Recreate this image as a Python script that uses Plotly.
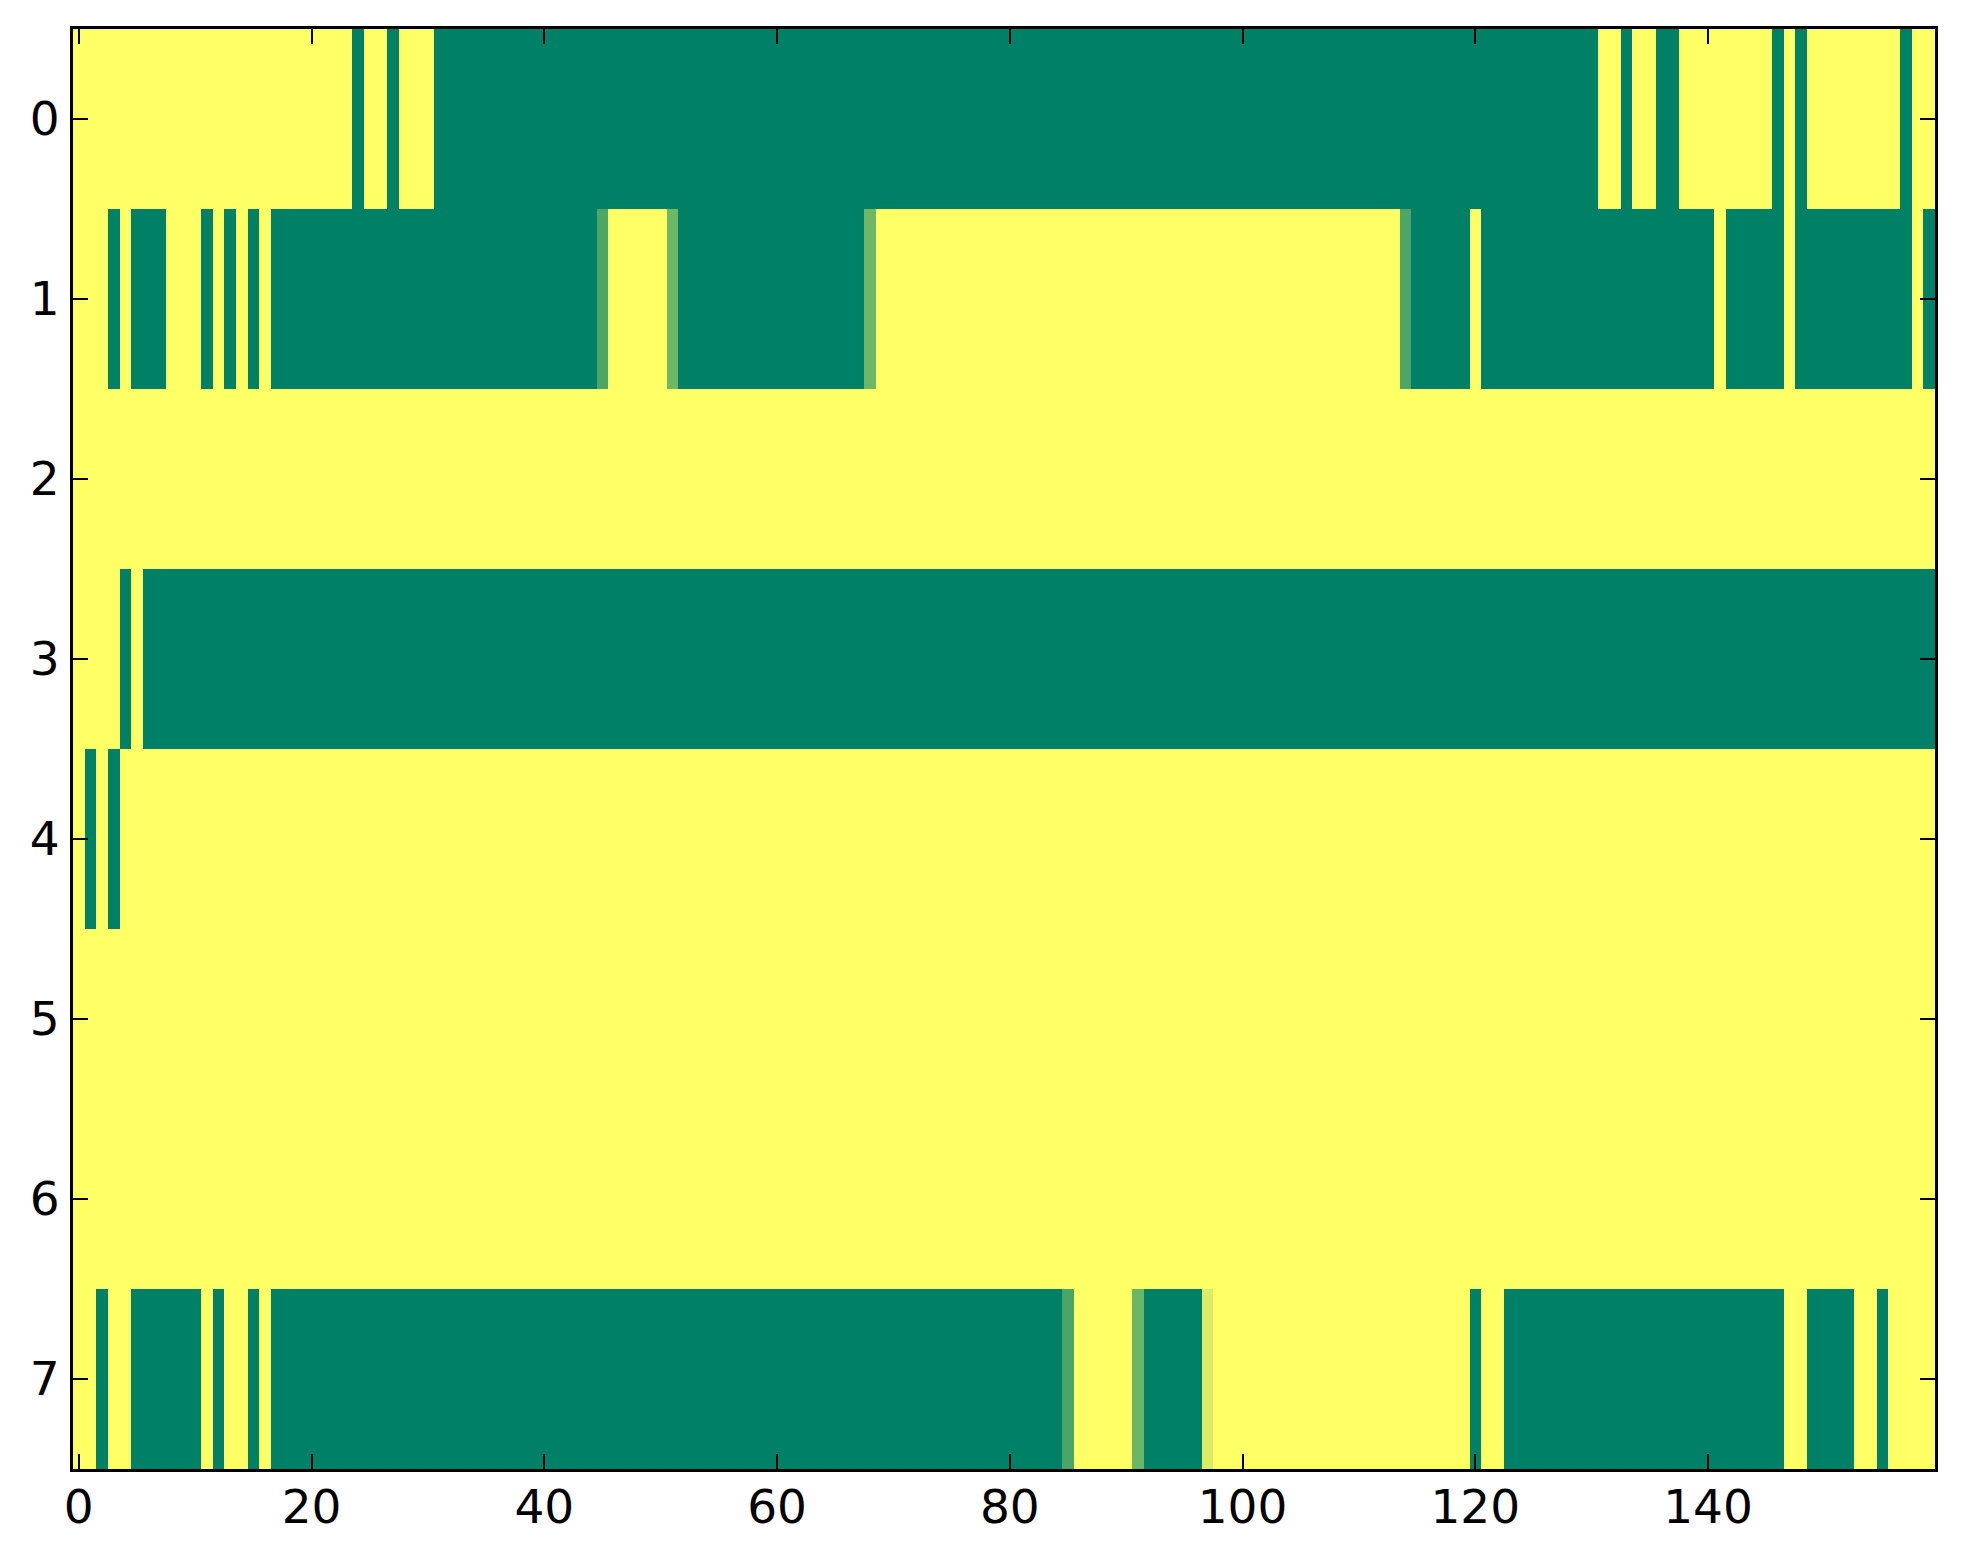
import plotly.graph_objects as go

# column index 0..159, row index 0..7
columns = list(range(160))
rows = list(range(8))

row0 = [
    1, 1, 1, 1, 1, 1, 1, 1, 1, 1,
    1, 1, 1, 1, 1, 1, 1, 1, 1, 1,
    1, 1, 1, 1, 0, 1, 1, 0, 1, 1,
    1, 0, 0, 0, 0, 0, 0, 0, 0, 0,
    0, 0, 0, 0, 0, 0, 0, 0, 0, 0,
    0, 0, 0, 0, 0, 0, 0, 0, 0, 0,
    0, 0, 0, 0, 0, 0, 0, 0, 0, 0,
    0, 0, 0, 0, 0, 0, 0, 0, 0, 0,
    0, 0, 0, 0, 0, 0, 0, 0, 0, 0,
    0, 0, 0, 0, 0, 0, 0, 0, 0, 0,
    0, 0, 0, 0, 0, 0, 0, 0, 0, 0,
    0, 0, 0, 0, 0, 0, 0, 0, 0, 0,
    0, 0, 0, 0, 0, 0, 0, 0, 0, 0,
    0, 1, 1, 0, 1, 1, 0, 0, 1, 1,
    1, 1, 1, 1, 1, 1, 0, 1, 0, 1,
    1, 1, 1, 1, 1, 1, 1, 0, 1, 1,
]

row1 = [
    1, 1, 1, 0, 1, 0, 0, 0, 1, 1,
    1, 0, 1, 0, 1, 0, 1, 0, 0, 0,
    0, 0, 0, 0, 0, 0, 0, 0, 0, 0,
    0, 0, 0, 0, 0, 0, 0, 0, 0, 0,
    0, 0, 0, 0, 0, 0.30, 1, 1, 1, 1,
    1, 0.43, 0, 0, 0, 0, 0, 0, 0, 0,
    0, 0, 0, 0, 0, 0, 0, 0, 0.43, 1,
    1, 1, 1, 1, 1, 1, 1, 1, 1, 1,
    1, 1, 1, 1, 1, 1, 1, 1, 1, 1,
    1, 1, 1, 1, 1, 1, 1, 1, 1, 1,
    1, 1, 1, 1, 1, 1, 1, 1, 1, 1,
    1, 1, 1, 1, 0.30, 0, 0, 0, 0, 0,
    1, 0, 0, 0, 0, 0, 0, 0, 0, 0,
    0, 0, 0, 0, 0, 0, 0, 0, 0, 0,
    0, 1, 0, 0, 0, 0, 0, 1, 0, 0,
    0, 0, 0, 0, 0, 0, 0, 0, 1, 0,
]

row2 = [
    1, 1, 1, 1, 1, 1, 1, 1, 1, 1,
    1, 1, 1, 1, 1, 1, 1, 1, 1, 1,
    1, 1, 1, 1, 1, 1, 1, 1, 1, 1,
    1, 1, 1, 1, 1, 1, 1, 1, 1, 1,
    1, 1, 1, 1, 1, 1, 1, 1, 1, 1,
    1, 1, 1, 1, 1, 1, 1, 1, 1, 1,
    1, 1, 1, 1, 1, 1, 1, 1, 1, 1,
    1, 1, 1, 1, 1, 1, 1, 1, 1, 1,
    1, 1, 1, 1, 1, 1, 1, 1, 1, 1,
    1, 1, 1, 1, 1, 1, 1, 1, 1, 1,
    1, 1, 1, 1, 1, 1, 1, 1, 1, 1,
    1, 1, 1, 1, 1, 1, 1, 1, 1, 1,
    1, 1, 1, 1, 1, 1, 1, 1, 1, 1,
    1, 1, 1, 1, 1, 1, 1, 1, 1, 1,
    1, 1, 1, 1, 1, 1, 1, 1, 1, 1,
    1, 1, 1, 1, 1, 1, 1, 1, 1, 1,
]

row3 = [
    1, 1, 1, 1, 0, 1, 0, 0, 0, 0,
    0, 0, 0, 0, 0, 0, 0, 0, 0, 0,
    0, 0, 0, 0, 0, 0, 0, 0, 0, 0,
    0, 0, 0, 0, 0, 0, 0, 0, 0, 0,
    0, 0, 0, 0, 0, 0, 0, 0, 0, 0,
    0, 0, 0, 0, 0, 0, 0, 0, 0, 0,
    0, 0, 0, 0, 0, 0, 0, 0, 0, 0,
    0, 0, 0, 0, 0, 0, 0, 0, 0, 0,
    0, 0, 0, 0, 0, 0, 0, 0, 0, 0,
    0, 0, 0, 0, 0, 0, 0, 0, 0, 0,
    0, 0, 0, 0, 0, 0, 0, 0, 0, 0,
    0, 0, 0, 0, 0, 0, 0, 0, 0, 0,
    0, 0, 0, 0, 0, 0, 0, 0, 0, 0,
    0, 0, 0, 0, 0, 0, 0, 0, 0, 0,
    0, 0, 0, 0, 0, 0, 0, 0, 0, 0,
    0, 0, 0, 0, 0, 0, 0, 0, 0, 0,
]

row4 = [
    1, 0, 1, 0, 1, 1, 1, 1, 1, 1,
    1, 1, 1, 1, 1, 1, 1, 1, 1, 1,
    1, 1, 1, 1, 1, 1, 1, 1, 1, 1,
    1, 1, 1, 1, 1, 1, 1, 1, 1, 1,
    1, 1, 1, 1, 1, 1, 1, 1, 1, 1,
    1, 1, 1, 1, 1, 1, 1, 1, 1, 1,
    1, 1, 1, 1, 1, 1, 1, 1, 1, 1,
    1, 1, 1, 1, 1, 1, 1, 1, 1, 1,
    1, 1, 1, 1, 1, 1, 1, 1, 1, 1,
    1, 1, 1, 1, 1, 1, 1, 1, 1, 1,
    1, 1, 1, 1, 1, 1, 1, 1, 1, 1,
    1, 1, 1, 1, 1, 1, 1, 1, 1, 1,
    1, 1, 1, 1, 1, 1, 1, 1, 1, 1,
    1, 1, 1, 1, 1, 1, 1, 1, 1, 1,
    1, 1, 1, 1, 1, 1, 1, 1, 1, 1,
    1, 1, 1, 1, 1, 1, 1, 1, 1, 1,
]

row5 = [
    1, 1, 1, 1, 1, 1, 1, 1, 1, 1,
    1, 1, 1, 1, 1, 1, 1, 1, 1, 1,
    1, 1, 1, 1, 1, 1, 1, 1, 1, 1,
    1, 1, 1, 1, 1, 1, 1, 1, 1, 1,
    1, 1, 1, 1, 1, 1, 1, 1, 1, 1,
    1, 1, 1, 1, 1, 1, 1, 1, 1, 1,
    1, 1, 1, 1, 1, 1, 1, 1, 1, 1,
    1, 1, 1, 1, 1, 1, 1, 1, 1, 1,
    1, 1, 1, 1, 1, 1, 1, 1, 1, 1,
    1, 1, 1, 1, 1, 1, 1, 1, 1, 1,
    1, 1, 1, 1, 1, 1, 1, 1, 1, 1,
    1, 1, 1, 1, 1, 1, 1, 1, 1, 1,
    1, 1, 1, 1, 1, 1, 1, 1, 1, 1,
    1, 1, 1, 1, 1, 1, 1, 1, 1, 1,
    1, 1, 1, 1, 1, 1, 1, 1, 1, 1,
    1, 1, 1, 1, 1, 1, 1, 1, 1, 1,
]

row6 = [
    1, 1, 1, 1, 1, 1, 1, 1, 1, 1,
    1, 1, 1, 1, 1, 1, 1, 1, 1, 1,
    1, 1, 1, 1, 1, 1, 1, 1, 1, 1,
    1, 1, 1, 1, 1, 1, 1, 1, 1, 1,
    1, 1, 1, 1, 1, 1, 1, 1, 1, 1,
    1, 1, 1, 1, 1, 1, 1, 1, 1, 1,
    1, 1, 1, 1, 1, 1, 1, 1, 1, 1,
    1, 1, 1, 1, 1, 1, 1, 1, 1, 1,
    1, 1, 1, 1, 1, 1, 1, 1, 1, 1,
    1, 1, 1, 1, 1, 1, 1, 1, 1, 1,
    1, 1, 1, 1, 1, 1, 1, 1, 1, 1,
    1, 1, 1, 1, 1, 1, 1, 1, 1, 1,
    1, 1, 1, 1, 1, 1, 1, 1, 1, 1,
    1, 1, 1, 1, 1, 1, 1, 1, 1, 1,
    1, 1, 1, 1, 1, 1, 1, 1, 1, 1,
    1, 1, 1, 1, 1, 1, 1, 1, 1, 1,
]

row7 = [
    1, 1, 0, 1, 1, 0, 0, 0, 0, 0,
    0, 1, 0, 1, 1, 0, 1, 0, 0, 0,
    0, 0, 0, 0, 0, 0, 0, 0, 0, 0,
    0, 0, 0, 0, 0, 0, 0, 0, 0, 0,
    0, 0, 0, 0, 0, 0, 0, 0, 0, 0,
    0, 0, 0, 0, 0, 0, 0, 0, 0, 0,
    0, 0, 0, 0, 0, 0, 0, 0, 0, 0,
    0, 0, 0, 0, 0, 0, 0, 0, 0, 0,
    0, 0, 0, 0, 0, 0.29, 1, 1, 1, 1,
    1, 0.42, 0, 0, 0, 0, 0, 0.86, 1, 1,
    1, 1, 1, 1, 1, 1, 1, 1, 1, 1,
    1, 1, 1, 1, 1, 1, 1, 1, 1, 1,
    0, 1, 1, 0, 0, 0, 0, 0, 0, 0,
    0, 0, 0, 0, 0, 0, 0, 0, 0, 0,
    0, 0, 0, 0, 0, 0, 0, 1, 1, 0,
    0, 0, 0, 1, 1, 0, 1, 1, 1, 1,
]

x_tick_values = [0, 20, 40, 60, 80, 100, 120, 140]
y_tick_values = [0, 1, 2, 3, 4, 5, 6, 7]

z = [row0, row1, row2, row3, row4, row5, row6, row7]

# matplotlib "summer" colormap
summer = [[0.0, "rgb(0,128,102)"], [1.0, "rgb(255,255,102)"]]

fig = go.Figure(
    go.Heatmap(
        z=z,
        x=columns,
        y=rows,
        colorscale=summer,
        zmin=0,
        zmax=1,
        showscale=False,
        hoverongaps=False,
    )
)

axis_common = dict(
    showline=True,
    linecolor="black",
    linewidth=3,
    mirror="allticks",
    ticks="inside",
    ticklen=15,
    tickwidth=2,
    tickcolor="black",
    showgrid=False,
    zeroline=False,
    tickfont=dict(family="DejaVu Sans", size=47, color="black"),
)

fig.update_layout(
    width=1963,
    height=1564,
    margin=dict(l=73, r=28, t=29, b=95, pad=0),
    paper_bgcolor="white",
    plot_bgcolor="white",
    xaxis=dict(
        range=[-0.5, 159.5],
        tickmode="array",
        tickvals=x_tick_values,
        ticktext=[str(v) for v in x_tick_values],
        ticklabelstandoff=-5,
        **axis_common,
    ),
    yaxis=dict(
        range=[7.5, -0.5],
        tickmode="array",
        tickvals=y_tick_values,
        ticktext=[str(v) for v in y_tick_values],
        ticklabelstandoff=1,
        **axis_common,
    ),
)

fig.write_html(
    "out.html",
    config={"displayModeBar": False},
    post_script="document.body.style.margin='0';document.body.style.overflow='hidden';",
)
